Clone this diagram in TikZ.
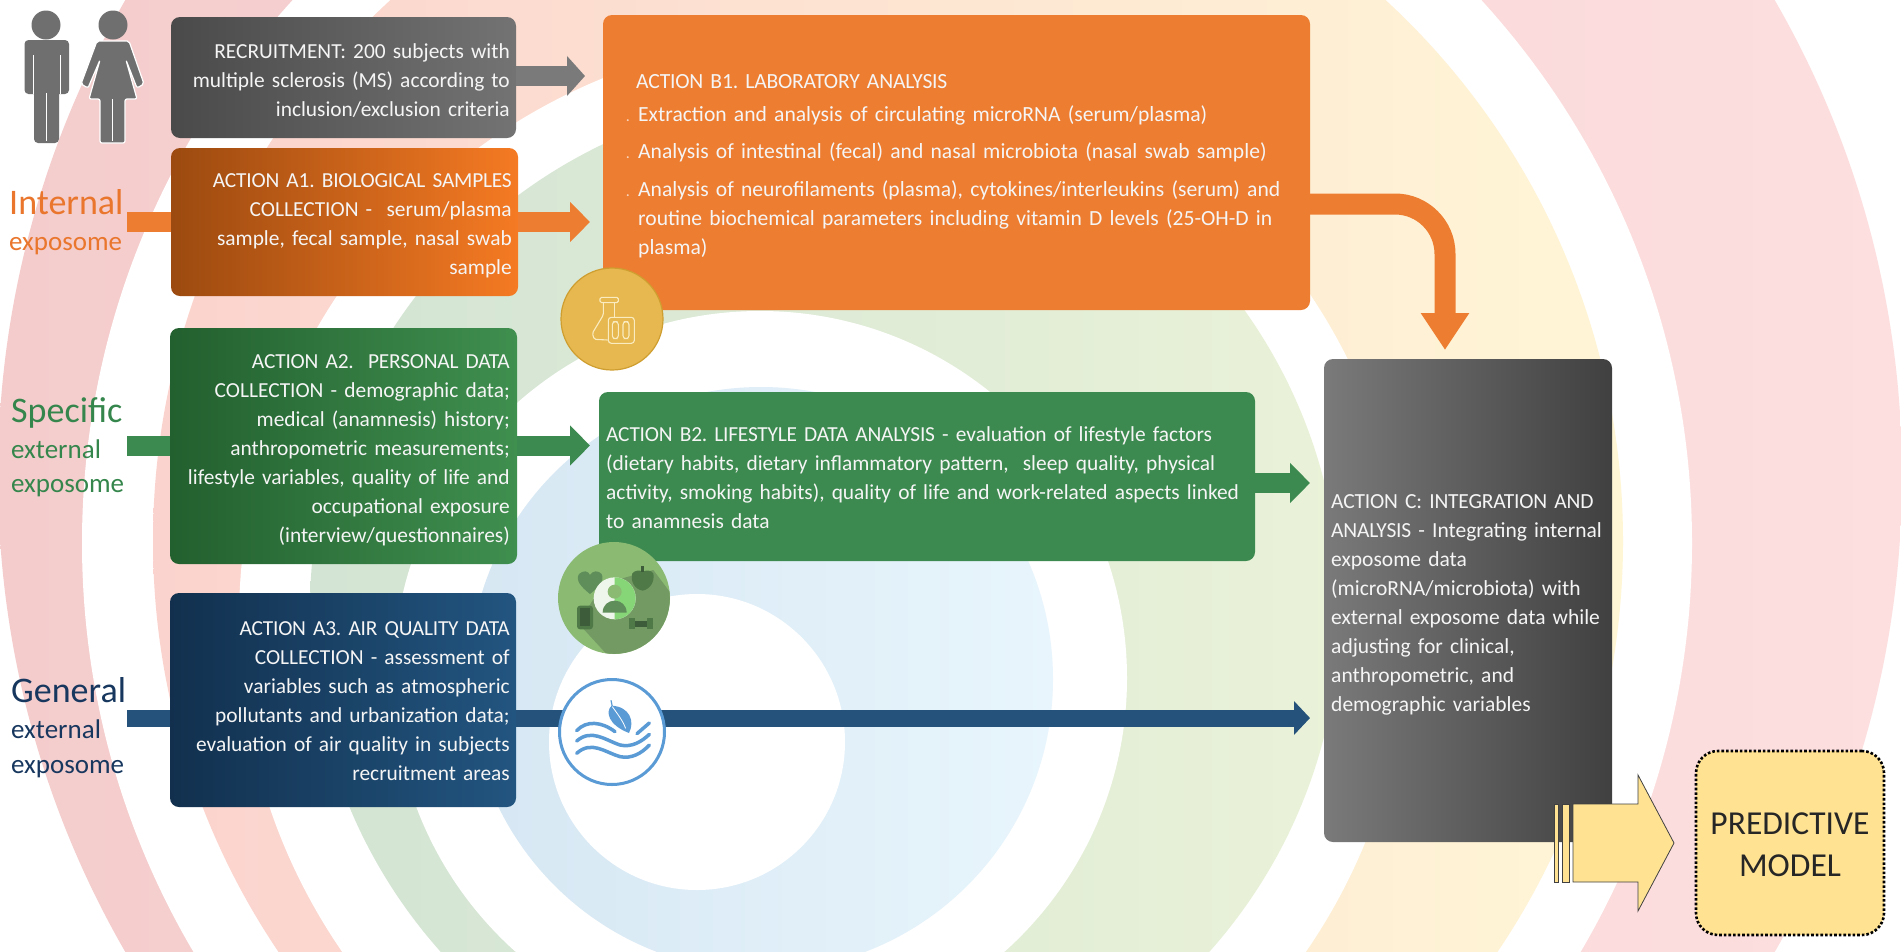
\documentclass[tikz,border=0pt]{standalone}
\usepackage{fontspec}
\setmainfont{Carlito}
\frenchspacing
\usetikzlibrary{arrows.meta}
\newcommand{\tightcaps}[1]{{\addfontfeatures{LetterSpace=-1.0}#1}}
\definecolor{cOrange}{HTML}{ED7D31}
\definecolor{cGreen}{HTML}{3D8A50}
\definecolor{cNavy}{HTML}{24527A}
\definecolor{cGrey}{HTML}{7A7A7A}
\definecolor{cYellow}{HTML}{FFE393}
\definecolor{cPerson}{HTML}{6F6F6F}
\definecolor{cSky}{HTML}{5B9BD5}
\definecolor{rA}{HTML}{F4CCCC}\definecolor{rB}{HTML}{FDDFE0}
\definecolor{pA}{HTML}{FBD3CE}\definecolor{pM}{HTML}{FCE8D4}\definecolor{pB}{HTML}{FFF6D6}
\definecolor{gA}{HTML}{D3E4D4}\definecolor{gB}{HTML}{EAF2D8}
\definecolor{bA}{HTML}{D6E7F3}\definecolor{bB}{HTML}{E8F5FC}
\definecolor{dkGrey}{HTML}{4A4A4A}\definecolor{ltGrey}{HTML}{737373}
\definecolor{aOneL}{HTML}{9C4A10}\definecolor{aOneR}{HTML}{F57A23}
\definecolor{aTwoL}{HTML}{23602F}\definecolor{aTwoR}{HTML}{3F8F4F}
\definecolor{aThrL}{HTML}{12304E}\definecolor{aThrR}{HTML}{225580}
\definecolor{cL}{HTML}{7A7A7A}\definecolor{cR}{HTML}{404040}
\definecolor{tOrange}{HTML}{E9762C}\definecolor{tGreen}{HTML}{35864C}\definecolor{tNavy}{HTML}{17375E}
\definecolor{gold}{HTML}{E6B84F}\definecolor{goldD}{HTML}{CF9E30}\definecolor{goldL}{HTML}{FBEBC0}
\definecolor{lfA}{HTML}{8BBB73}\definecolor{lfB}{HTML}{739A63}\definecolor{lfC}{HTML}{5F8E5A}\definecolor{lfD}{HTML}{3C5C3A}\definecolor{lfE}{HTML}{4F7A47}
\tikzset{
  box/.style={rectangle,rounded corners=9pt,inner sep=0pt,outer sep=0pt},
  rtext/.style={anchor=base east,inner sep=0pt,text=white!96!black,text width=400pt,align=right,font=\fontsize{21.4}{29}\selectfont},
  ltext/.style={anchor=base west,inner sep=0pt,text=white!96!black,text width=690pt,align=left,font=\fontsize{21.5}{29}\selectfont},
  bigword/.style={anchor=base west,inner sep=0pt,font=\fontsize{36}{40}\selectfont},
  smallword/.style={anchor=base west,inner sep=0pt,font=\fontsize{27}{34}\selectfont},
  blockarrow/.style={line cap=butt,line width=#1},
  gicon/.style={fill=cPerson,rounded corners=4pt},
  iconline/.style={draw=goldL,line width=1.1pt,fill=none,rounded corners=1.5pt},
  wave/.style={draw=cSky,line width=3.5pt,line cap=round,fill=none},
}
\begin{document}
\begin{tikzpicture}[x=1pt,y=-1pt]
\useasboundingbox (0,0) rectangle (1901,951);
\fill[white] (0,0) rectangle (1901,951);
% background crescents
\begin{scope}
\clip (0,0) rectangle (1901,951);
\shade[left color=rA,right color=rB] (950,476) circle (952pt);
\fill[white] (887,543) circle (805pt);
\shade[left color=pA,middle color=pM,right color=pB] (888,541) circle (735pt);
\fill[white] (824,620) circle (585pt);
\shade[left color=gA,right color=gB] (825,609) circle (515pt);
\fill[white] (760,678) circle (367pt);
\shade[left color=bA,right color=bB] (761,679) circle (292pt);
\fill[white] (697,742) circle (148pt);
\end{scope}
% people
\fill[cPerson] (46,25) circle (14.5pt);
\fill[gicon] (24.5,40) rectangle (69,94);
\fill[gicon] (34,86) rectangle (59,143);
\draw[white,line width=1pt] (33,55) -- (33,94) (60.5,55) -- (60.5,94) (46.5,93) -- (46.5,141);
\fill[cPerson] (113,25) circle (14.5pt);
\draw[white,line width=1.2pt,fill=cPerson,line join=round,rounded corners=2pt]
  (97,41) -- (129,41) -- (144,84) -- (137,88) -- (126,60) -- (137,99) -- (125,99) -- (125,143) -- (100,143) -- (100,99) -- (89,99) -- (100,60) -- (88,88) -- (81,84) -- cycle;
\draw[white,line width=1pt] (112.5,99) -- (112.5,141);
% boxes
\node[box,minimum width=345pt,minimum height=121pt,left color=dkGrey,right color=ltGrey] (recruit) at (343.5,77.5) {};
\node[box,minimum width=347pt,minimum height=148pt,left color=aOneL,right color=aOneR] (aone) at (344.5,222) {};
\node[box,minimum width=347pt,minimum height=236pt,left color=aTwoL,right color=aTwoR] (atwo) at (343.5,446) {};
\node[box,minimum width=346pt,minimum height=214pt,left color=aThrL,right color=aThrR] (athree) at (343,700) {};
\node[box,minimum width=707pt,minimum height=295pt,fill=cOrange] (bone) at (956.5,162.5) {};
\node[box,minimum width=656pt,minimum height=169pt,fill=cGreen] (btwo) at (927,476.5) {};
\node[box,minimum width=288pt,minimum height=483pt,left color=cL,right color=cR] (cbox) at (1468,600.5) {};
\node[rectangle,rounded corners=22pt,minimum width=188pt,minimum height=184pt,inner sep=0pt,fill=cYellow,draw=black,line width=2.6pt,dotted] (pred) at (1790,843) {};
% stub coordinates
\coordinate (s1) at (127,222); \coordinate (s2) at (127,446); \coordinate (s3) at (127,718.5);
\coordinate (trec) at (585,76); \coordinate (tone) at (590,222); \coordinate (ttwo) at (590,445.5);
\coordinate (tthr) at (1310,718); \coordinate (tb2) at (1310,483); \coordinate (tc) at (1445,350);
\coordinate (bend) at (1445,204);
\coordinate (bigtail) at (1573,843); \coordinate (bigtip) at (1674,843);
% connectors
\draw[blockarrow=20pt,draw=cGrey,-{Triangle[width=39pt,length=18pt]}] (recruit.east |- trec) -- (trec);
\draw[blockarrow=20pt,draw=cOrange] (s1) -- (aone.west |- s1);
\draw[blockarrow=20pt,draw=cOrange,-{Triangle[width=39pt,length=20pt]}] (aone.east |- tone) -- (tone);
\draw[blockarrow=20pt,draw=cGreen] (s2) -- (atwo.west |- s2);
\draw[blockarrow=20pt,draw=cGreen,-{Triangle[width=39pt,length=20pt]}] (atwo.east |- ttwo) -- (ttwo);
\draw[blockarrow=17pt,draw=cNavy] (s3) -- (athree.west |- s3);
\draw[blockarrow=17pt,draw=cNavy,-{Triangle[width=33pt,length=16pt]}] (athree.east |- tthr) -- (tthr);
\draw[blockarrow=20pt,draw=cGreen,-{Triangle[width=39pt,length=20pt]}] (btwo.east |- tb2) -- (tb2);
\draw[blockarrow=21pt,draw=cOrange,rounded corners=50pt,-{Triangle[width=46pt,length=37pt]}] (bone.east |- bend) -- (bend) -- (tc);
% big arrow to predictive model
\draw[fill=cYellow,draw=black!75,line width=.8pt] (1554,804) rectangle (1558,882);
\draw[fill=cYellow,draw=black!75,line width=.8pt] (1562,804) rectangle (1569,882);
\draw[fill=cYellow,draw=black!75,line width=.8pt] (bigtail |- 0,804) -- (1638,804) -- (1638,775) -- (bigtip) -- (1638,911) -- (1638,882) -- (bigtail |- 0,882) -- cycle;
% flask icon
\node[circle,minimum size=102pt,inner sep=0pt,fill=gold,draw=goldD,line width=1.2pt] (flask) at (612,319) {};
\begin{scope}[shift={(555,260)},x=.3333pt,y=-.3333pt]
\draw[iconline] (135,112) rectangle (190,128);
\draw[iconline] (145,128) -- (145,165) -- (112,220) -- (118,238) -- (158,240);
\draw[iconline] (178,128) -- (178,172);
\draw[iconline,rounded corners=3pt] (160,172) rectangle (238,250);
\draw[iconline,rounded corners=3pt] (172,185) rectangle (190,236);
\draw[iconline,rounded corners=3pt] (204,185) rectangle (222,236);
\end{scope}
% lifestyle icon
\node[circle,minimum size=112pt,inner sep=0pt,fill=lfA] (life) at (614,598) {};
\begin{scope}[shift={(555,540)},x=.3333pt,y=-.3333pt]
\begin{scope}
\clip (178,175) circle (55.5pt);
\fill[lfB] (70,250) -- (145,130) -- (295,90) -- (370,190) -- (370,370) -- (180,370) -- cycle;
\end{scope}
\fill[lfC] (105,162) .. controls (80,142) and (60,122) .. (72,102) .. controls (85,90) and (100,92) .. (105,105) .. controls (112,92) and (130,90) .. (140,102) .. controls (150,122) and (130,142) .. (105,162) -- cycle;
\fill[lfE] (263,152) .. controls (240,148) and (225,125) .. (232,100) .. controls (240,90) and (255,90) .. (263,95) .. controls (272,90) and (290,90) .. (295,100) .. controls (300,125) and (285,148) .. (263,152) -- cycle;
\fill[lfD] (259,78) rectangle (267,96);
\fill[lfE,rounded corners=3pt] (66,197) rectangle (114,268);
\fill[lfD] (75,205) rectangle (105,258);
\fill[lfE] (222,235) rectangle (240,268);
\fill[lfE] (277,235) rectangle (295,268);
\fill[lfD] (240,243) rectangle (277,260);
\fill[white!85!lfA] (179,175) circle (21pt);
\begin{scope}
\clip (179,100) rectangle (250,250);
\fill[white!50!green!40!lfA] (179,175) circle (21pt);
\end{scope}
\fill[lfA] (179,155) circle (7pt);
\fill[lfC] (143,218) .. controls (143,195) and (160,182) .. (179,182) .. controls (198,182) and (215,195) .. (215,218) -- cycle;
\end{scope}
% air icon
\node[circle,minimum size=105pt,inner sep=0pt,fill=white,draw=cSky,line width=3pt] (air) at (612,732) {};
\begin{scope}[shift={(555,675)},x=.3333pt,y=-.3333pt]
\fill[cSky] (170,92) .. controls (150,110) and (160,150) .. (222,174) .. controls (240,140) and (225,95) .. (170,92) -- cycle;
\draw[cSky,line width=1.2pt] (168,76) -- (172,95);
\draw[white,line width=.8pt] (172,95) .. controls (190,120) and (205,140) .. (212,160);
\draw[wave] (65,167) .. controls (95,135) and (140,140) .. (180,170);
\draw[wave] (246,176) -- (283,144);
\draw[wave] (65,198) .. controls (110,160) and (150,195) .. (195,210) .. controls (230,218) and (260,200) .. (283,178);
\draw[wave] (65,235) .. controls (110,195) and (150,232) .. (195,245) .. controls (230,252) and (260,235) .. (283,210);
\end{scope}
% left labels
\node[bigword,text=tOrange] (linternal) at (9,214) {Internal};
\node[smallword,text=tOrange] (lexpo1) at (9,250) {exposome};
\node[bigword,text=tGreen] (lspecific) at (11,422) {Specific};
\node[smallword,text=tGreen] (lext2) at (11,458) {external};
\node[smallword,text=tGreen] (lexpo2) at (11,492) {exposome};
\node[bigword,text=tNavy] (lgeneral) at (11,702) {General};
\node[smallword,text=tNavy] (lext3) at (11,738) {external};
\node[smallword,text=tNavy] (lexpo3) at (11,773) {exposome};
% box texts
\node[rtext] (trecruit) at (510,58) {RECRUITMENT: 200 subjects with\\multiple sclerosis (MS) according to\\inclusion/exclusion criteria};
\node[rtext] (taone) at (512,187) {\tightcaps{ACTION A1. BIOLOGICAL SAMPLES}\\COLLECTION -\ \ serum/plasma\\sample, fecal sample, nasal swab\\sample};
\node[rtext] (tatwo) at (510,368) {\tightcaps{ACTION A2.\ \ PERSONAL DATA}\\COLLECTION - demographic data;\\medical (anamnesis) history;\\anthropometric measurements;\\lifestyle variables, quality of life and\\occupational exposure\\(interview/questionnaires)};
\node[rtext] (tathree) at (510,635) {\tightcaps{ACTION A3. AIR QUALITY DATA}\\COLLECTION - assessment of\\variables such as atmospheric\\pollutants and urbanization data;\\evaluation of air quality in subjects\\recruitment areas};
\node[ltext,font=\fontsize{21.6}{29}\selectfont] (tbtitle) at (636,88) {\tightcaps{ACTION B1. LABORATORY ANALYSIS}};
\node[ltext,font=\fontsize{21.6}{29}\selectfont] (tbl1) at (638,121) {Extraction and analysis of circulating microRNA (serum/plasma)};
\node[ltext,font=\fontsize{21.6}{29}\selectfont] (tbl2) at (638,158) {Analysis of intestinal (fecal) and nasal microbiota (nasal swab sample)};
\node[ltext,font=\fontsize{21.6}{29}\selectfont] (tbl3) at (638,196) {Analysis of neurofilaments (plasma), cytokines/interleukins (serum) and\\routine biochemical parameters including vitamin D levels (25-OH-D in\\plasma)};
\node[anchor=base,inner sep=0pt,text=white!70!cOrange,font=\fontsize{16}{20}\selectfont] (dot1) at (628,121) {.};
\node[anchor=base,inner sep=0pt,text=white!70!cOrange,font=\fontsize{16}{20}\selectfont] (dot2) at (628,158) {.};
\node[anchor=base,inner sep=0pt,text=white!70!cOrange,font=\fontsize{16}{20}\selectfont] (dot3) at (628,196) {.};
\node[ltext,font=\fontsize{21.4}{29}\selectfont] (tbtwo) at (606,441) {\tightcaps{ACTION B2. LIFESTYLE DATA ANALYSIS} - evaluation of lifestyle factors\\(dietary habits, dietary inflammatory pattern,\ \ sleep quality, physical\\activity, smoking habits), quality of life and work-related aspects linked\\to anamnesis data};
\node[ltext,text width=278pt] (tc) at (1331,508) {\tightcaps{ACTION C: INTEGRATION AND}\\\tightcaps{ANALYSIS} - Integrating internal\\exposome data\\(microRNA/microbiota) with\\external exposome data while\\adjusting for clinical,\\anthropometric, and\\demographic variables};
\node[anchor=center,inner sep=0pt,align=center,text=black!85,font=\fontsize{33.5}{42}\selectfont] (tpred) at ([yshift=-1.5pt]pred.center) {PREDICTIVE\\MODEL};
\end{tikzpicture}
\end{document}
